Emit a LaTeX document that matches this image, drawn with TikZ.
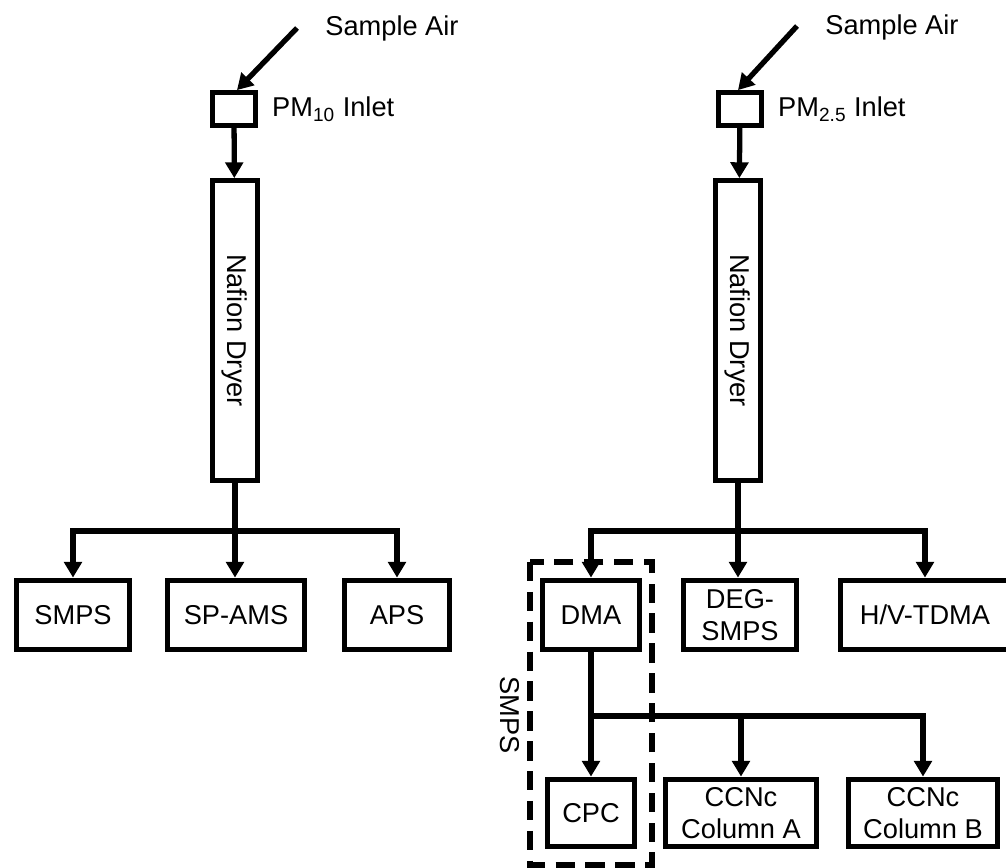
\documentclass[tikz,border=0pt]{standalone}
\usepackage{graphicx}
\usepackage{fontspec}
\setmainfont{Liberation Sans}
\usetikzlibrary{arrows.meta, positioning}

\begin{document}
\begin{tikzpicture}[
    box/.style={draw, line width=3pt, inner sep=0pt, align=center, font=\fontsize{15.5}{18.5}\selectfont},
    inlet/.style={draw, line width=3pt, minimum width=0.85cm, minimum height=0.65cm, inner sep=0pt},
    dryer/.style={box, minimum width=0.89cm, minimum height=5.99cm},
    unit/.style={box, minimum height=1.39cm},
    arr/.style={-{Triangle[length=9pt, width=10pt]}, line width=3pt},
    pipe/.style={line width=3pt},
    group/.style={line width=3pt, dash pattern=on 11pt off 6pt},
    lbl/.style={font=\fontsize{15.5}{18}\selectfont, anchor=west, inner sep=0pt},
]
\useasboundingbox (0,0) rectangle (20.12,-17.36);

% PM10 line
\coordinate (airL) at (5.94,-0.56);
\node[lbl] (airLtxt) at (6.5,-0.56) {Sample Air};
\node[inlet] (inL) at (4.68,-2.18) {};
\node[lbl, right=0.28cm of inL] (inLtxt) {PM\textsubscript{10} Inlet};
\node[dryer] (dryL) at (4.7,-6.61) {\rotatebox{-90}{Nafion Dryer}};
\coordinate (brL) at (4.7,-10.62);
\node[unit, minimum width=2.25cm] (smps) at (1.46,-12.3) {SMPS};
\node[unit, minimum width=2.73cm] (spams) at (4.72,-12.3) {SP-AMS};
\node[unit, minimum width=2.09cm] (aps) at (7.94,-12.3) {APS};

\draw[arr] (airL) -- ([xshift=0.06cm]inL.north);
\draw[arr] (inL) -- (dryL);
\draw[pipe] (dryL.south) -- (brL);
\draw[arr] (brL) -| (smps);
\draw[arr] (brL) -- (brL |- spams.north);
\draw[arr] (brL) -| (aps);

% PM2.5 line
\coordinate (airR) at (15.94,-0.52);
\node[lbl] (airRtxt) at (16.5,-0.54) {Sample Air};
\node[inlet] (inR) at (14.8,-2.18) {};
\node[lbl, right=0.28cm of inR] (inRtxt) {PM\textsubscript{2.5} Inlet};
\node[dryer] (dryR) at (14.76,-6.61) {\rotatebox{-90}{Nafion Dryer}};
\coordinate (brR) at (14.76,-10.62);
\node[unit, minimum width=1.93cm] (dma) at (11.82,-12.3) {DMA};
\node[unit, minimum width=2.27cm] (deg) at (14.8,-12.3) {DEG-\\SMPS};
\node[unit, minimum width=3.37cm] (hv) at (18.5,-12.3) {H/V-TDMA};
\coordinate (brD) at (11.82,-14.32);
\node[unit, minimum width=1.73cm, minimum height=1.35cm] (cpc) at (11.82,-16.26) {CPC};
\node[unit, minimum width=3.03cm, minimum height=1.35cm] (ccnA) at (14.82,-16.26) {CCNc\\Column A};
\node[unit, minimum width=2.99cm, minimum height=1.35cm] (ccnB) at (18.46,-16.26) {CCNc\\Column B};

\draw[arr] (airR) -- ([xshift=-0.04cm]inR.north);
\draw[arr] (inR) -- (dryR);
\draw[pipe] (dryR.south) -- (brR);
\draw[arr] (brR) -| (dma);
\draw[arr] (brR) -- (brR |- deg.north);
\draw[arr] (brR) -| (hv);
\draw[pipe] (dma.south) -- (brD);
\draw[arr] (brD) -- (cpc);
\draw[arr] (brD) -| (ccnA);
\draw[arr] (brD) -| (ccnB);

% SMPS group
\draw[group] (10.6,-11.24) rectangle (13.04,-17.3);
\node[font=\fontsize{15.5}{18}\selectfont, rotate=-90, inner sep=0pt] (smpsgrp) at (10.2,-14.3) {SMPS};

\end{tikzpicture}
\end{document}
